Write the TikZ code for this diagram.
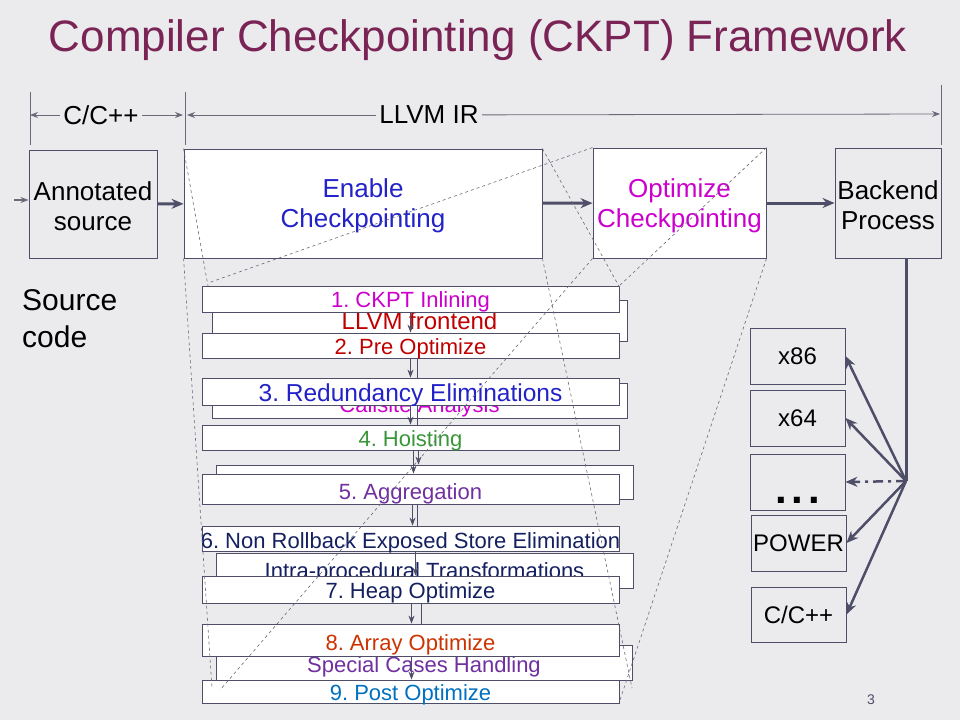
\documentclass[tikz,border=0pt]{standalone}
\usepackage{fontspec}
\setmainfont{Liberation Sans}
\usetikzlibrary{arrows.meta, positioning}
\definecolor{bgGray}{RGB}{235,235,238}
\definecolor{titlePurple}{RGB}{122,36,86}
\definecolor{boxGray}{RGB}{78,78,104}
\definecolor{lineGray}{RGB}{105,105,120}
\definecolor{enableBlue}{RGB}{34,34,200}
\definecolor{optMagenta}{RGB}{204,0,204}
\definecolor{frontRed}{RGB}{192,0,0}
\definecolor{hoistGreen}{RGB}{56,150,56}
\definecolor{aggPurple}{RGB}{112,48,160}
\definecolor{storeNavy}{RGB}{20,32,96}
\definecolor{arrayOrange}{RGB}{204,51,0}
\definecolor{postBlue}{RGB}{0,112,192}

\begin{document}
\frenchspacing
\begin{tikzpicture}[x=1pt, y=-1pt, >={Stealth[length=8pt, width=6pt]},
    mainbox/.style={draw=boxGray, line width=0.9pt, align=center, inner sep=0pt, font=\fontsize{26}{30}\selectfont},
    passbox/.style={draw=boxGray, fill=white, line width=0.8pt, inner sep=0pt, minimum width=417pt, text height=17pt, text depth=0pt, font=\fontsize{22}{24}\selectfont},
    archbox/.style={draw=boxGray, line width=0.9pt, inner sep=0pt, minimum width=95pt, minimum height=56pt, font=\fontsize{24}{28}\selectfont},
    flow/.style={-{Stealth[length=12pt, width=10pt]}, boxGray, line width=3pt},
    passflow/.style={->, boxGray, line width=1pt},
    dimline/.style={lineGray, line width=0.8pt},
    zoomline/.style={lineGray, dashed, line width=0.6pt}]

    % Background
    \fill[bgGray] (0,0) rectangle (960,720);
    \useasboundingbox (0,0) rectangle (960,720);

    \node[anchor=base, text=titlePurple, font=\fontsize{44}{50}\selectfont] (title) at (478,51) {Compiler Checkpointing (CKPT) Framework};

    % Language ranges
    \draw[dimline] (30,92) -- (30,145);
    \draw[dimline] (185,92) -- (185,145);
    \draw[dimline] (941,85) -- (941,145);
    \coordinate (cppL) at (30,115);
    \coordinate (cppR) at (183,115);
    \coordinate (llvmL) at (187,115);
    \coordinate (llvmR) at (940,114);
    \node[font=\fontsize{26}{30}\selectfont] (cppLbl) at (101,115) {C/C++};
    \node[font=\fontsize{26}{30}\selectfont] (llvmLbl) at (429,115) {LLVM IR};
    \draw[dimline, ->] (cppLbl) -- (cppL);
    \draw[dimline, ->] (cppLbl) -- (cppR);
    \draw[dimline, ->] (llvmLbl) -- (llvmL);
    \draw[dimline, ->] (llvmLbl) -- (llvmR);

    % Main stages
    \node[mainbox, minimum width=128pt, minimum height=108pt] (annot) at (93,204) {\rule{0pt}{23pt}Annotated\\source};
    \node[mainbox, fill=white, text=enableBlue, minimum width=358pt, minimum height=109pt] (enable) at (363,203.5) {\rule{0pt}{24pt}Enable\\Checkpointing};
    \node[mainbox, fill=white, text=optMagenta, minimum width=173pt, minimum height=110pt] (optimize) at (679.5,203) {\rule{0pt}{24pt}Optimize\\Checkpointing};
    \node[mainbox, minimum width=106pt, minimum height=110pt] (backend) at (888,203) {\rule{0pt}{24pt}Backend\\Process};

    \coordinate (srcIn) at (14,200);
    \draw[->, lineGray, line width=1.5pt] (srcIn) -- (annot.west |- srcIn);
    \draw[flow] (annot) -- (enable);
    \draw[flow] (enable) -- (optimize);
    \draw[flow] (optimize) -- (backend);

    \node[anchor=north west, align=left, inner sep=0pt, font=\fontsize{30}{37}\selectfont] (srcCode) at (22,289) {Source\\code};

    % Targets
    \coordinate (hub) at (906,481);
    \draw[boxGray, line width=3pt] (backend.south -| hub) -- (hub);
    \node[archbox] (x86) at (797.5,356) {x86};
    \node[archbox] (x64) at (797.5,418) {x64};
    \node[archbox] (etc) at (797.5,482) {};
    \node[anchor=base, inner sep=0pt, font=\bfseries\fontsize{42}{42}\selectfont] (etcDots) at (797.5,503) {.\hspace{5pt}.\hspace{5pt}.};
    \node[archbox] (power) at (798.5,543) {POWER};
    \node[archbox, minimum height=55pt] (ccpp) at (798.5,614.5) {C/C++};
    \draw[flow, line width=2.5pt] (hub) -- (x86.east);
    \draw[flow, line width=2.5pt] (hub) -- (x64.east);
    \draw[flow, line width=2.5pt, dash pattern=on 10pt off 5pt on 3pt off 5pt] (hub) -- (etc.east);
    \draw[flow, line width=2.5pt] (hub) -- (power.east);
    \draw[flow, line width=2.5pt] (hub) -- (ccpp.east);

    % Hidden passes
    \node[passbox, minimum width=415pt, minimum height=41pt, text=frontRed, font=\fontsize{24}{26}\selectfont] (llvmFe) at (419.5,320.5) {LLVM frontend};
    \node[passbox, minimum width=415pt, minimum height=35pt, text height=23pt, text=optMagenta] (callsite) at (419.5,400.5) {Callsite Analysis};
    \node[passbox, minimum height=34pt] (maskedPass) at (424.5,482) {};
    \node[passbox, minimum height=35pt, text height=15pt, text=storeNavy] (intra) at (424.5,570.5) {Intra-procedural Transformations};
    \node[passbox, minimum width=416pt, minimum height=35pt, text height=19pt, text=aggPurple] (special) at (424,662.5) {Special Cases Handling};

    % Numbered passes
    \node[passbox, minimum height=26pt, text height=16pt, text=optMagenta] (p1) at (410.5,299) {1. CKPT Inlining};
    \node[passbox, minimum height=25pt, text=frontRed] (p2) at (410.5,345.5) {2. Pre Optimize};
    \node[passbox, minimum height=27pt, text height=19pt, text=enableBlue, font=\fontsize{24.5}{26}\selectfont] (p3) at (410.5,391.5) {3. Redundancy Eliminations};
    \node[passbox, minimum height=25pt, text=hoistGreen] (p4) at (410.5,437.5) {4. Hoisting};
    \node[passbox, minimum height=30pt, text height=20pt, text=aggPurple] (p5) at (410.5,489) {5. Aggregation};
    \node[passbox, minimum height=25pt, text height=19pt, text=storeNavy] (p6) at (410.5,538.5) {\makebox[417pt]{6. Non Rollback Exposed Store Elimination}};
    \node[passbox, minimum height=27pt, text=storeNavy] (p7) at (410.5,589.5) {7. Heap Optimize};
    \node[passbox, minimum height=32pt, text height=20pt, text=arrayOrange] (p8) at (410.5,640) {8. Array Optimize};
    \node[passbox, minimum height=23pt, text=postBlue] (p9) at (410.5,691.5) {9. Post Optimize};

    \draw[passflow] (p1) -- (p2);
    \draw[passflow] (p2) -- (p3);
    \draw[boxGray, line width=1pt] ([xshift=7pt]p2.south) -- ([xshift=7pt]p3.north);
    \draw[passflow] (p3) -- (p4);
    \draw[boxGray, line width=1pt] ([xshift=7pt]p3.south) -- ([xshift=7pt]p4.north);
    \draw[passflow] ([xshift=8pt]p4.south) -- ([xshift=8pt]p4.south |- maskedPass.north);
    \draw[passflow] ([xshift=3pt]p4.south) -- ([xshift=3pt]p5.north);
    \draw[passflow] ([xshift=2pt]p5.south) -- ([xshift=2pt]p6.north);
    \draw[boxGray, line width=1pt] ([xshift=7pt]p5.south) -- ([xshift=7pt]p6.north);
    \draw[passflow] ([xshift=5pt]p6.south) -- ([xshift=5pt]p7.north);
    \draw[passflow] ([xshift=1pt]p7.south) -- ([xshift=1pt]p8.north);
    \draw[boxGray, line width=1pt] ([xshift=11pt]p7.south) -- ([xshift=11pt]p8.north);
    \draw[passflow] ([xshift=1pt]p8.south) -- ([xshift=1pt]p9.north);

    % Zoom guides
    \coordinate (eTL) at (208,286);
    \coordinate (eTR) at (620,288);
    \coordinate (eBL) at (212,688);
    \coordinate (eBR) at (632,688);
    \coordinate (oTL) at (208,283);
    \coordinate (oTR) at (618,287);
    \coordinate (oBL) at (220,690);
    \coordinate (oBR) at (620,700);
    \draw[zoomline] (enable.north west) -- (eTL);
    \draw[zoomline] (enable.north east) -- (eTR);
    \draw[zoomline] (enable.south west) -- (eBL);
    \draw[zoomline] (enable.south east) -- (eBR);
    \draw[zoomline] (optimize.north west) -- (oTL);
    \draw[zoomline] (optimize.north east) -- (oTR);
    \draw[zoomline] (optimize.south west) -- (oBL);
    \draw[zoomline] (optimize.south east) -- (oBR);

    \node[text=boxGray, font=\fontsize{14}{16}\selectfont] (pageNo) at (871,700) {3};
\end{tikzpicture}
\end{document}
